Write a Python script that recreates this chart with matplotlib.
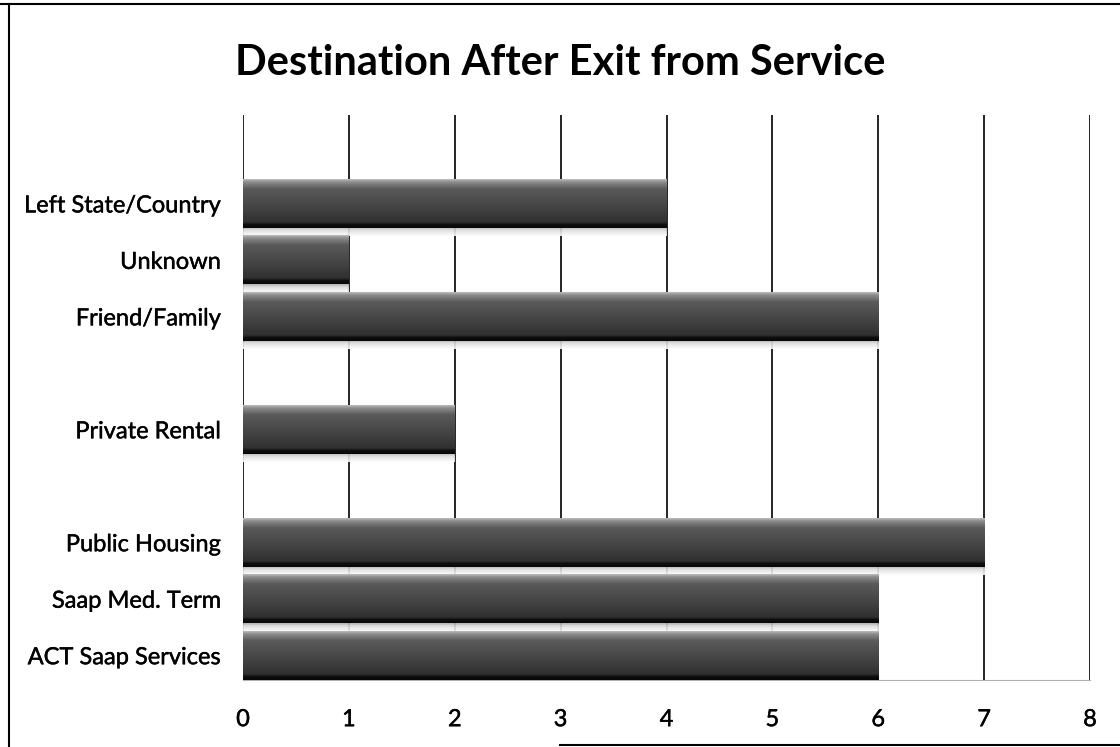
import numpy as np
import matplotlib
matplotlib.use("Agg")
import matplotlib.pyplot as plt
import matplotlib.patheffects as pe
from matplotlib.lines import Line2D
from matplotlib.colors import LinearSegmentedColormap

# ---- data (bottom to top; blank entries are empty category slots) ----
categories = ["ACT Saap Services", "Saap Med. Term", "Public Housing", "",
              "Private Rental", "", "Friend/Family", "Unknown",
              "Left State/Country", ""]
values = [6, 6, 7, 0, 2, 0, 6, 1, 4, 0]
x_ticks = [0, 1, 2, 3, 4, 5, 6, 7, 8]
title = "Destination After Exit from Service"

plt.rcParams['font.family'] = ['Lato', 'DejaVu Sans']

fig = plt.figure(figsize=(11.2, 7.47), dpi=100)
ax = fig.add_axes([0.217, 0.0897, 0.7562, 0.7564])

bar_h = 0.85
refl_h = 0.15

# bar shading: top highlight -> dark body -> black bottom edge (top row first)
bar_cmap = LinearSegmentedColormap.from_list(
    "bar", [(0.0, "#bdbdbd"), (0.06, "#8c8c8c"), (0.2, "#5a5a5a"),
            (0.55, "#454545"), (0.88, "#303030"), (0.93, "#0e0e0e"),
            (1.0, "#080808")])
refl_cmap = LinearSegmentedColormap.from_list(
    "refl", [(0.0, "#a8a8a8"), (0.35, "#dcdcdc"), (1.0, "#ffffff")])
grad = np.linspace(0, 1, 256).reshape(-1, 1)

ypos = np.arange(len(categories))
for y, v in zip(ypos, values):
    if v <= 0:
        continue
    top = y + bar_h / 2
    bot = y - bar_h / 2
    ax.imshow(grad, cmap=bar_cmap, aspect="auto", interpolation="bilinear",
              extent=(0, v, bot, top), origin="upper", zorder=3)
    ax.imshow(grad, cmap=refl_cmap, aspect="auto", interpolation="bilinear",
              extent=(0, v, bot - refl_h, bot), origin="upper", zorder=2,
              alpha=0.9)

ax.set_xlim(0, 8)
ax.set_ylim(-0.43, 9.575)
ax.set_xticks(x_ticks)
ax.set_xticklabels([str(t) for t in x_ticks], fontsize=17)
ax.set_yticks(ypos)
ax.set_yticklabels(categories, fontsize=17)
ax.tick_params(axis="both", length=0)
ax.tick_params(axis="x", pad=21)
ax.tick_params(axis="y", pad=16)

heavy = [pe.withStroke(linewidth=0.3, foreground="black")]
for lab in ax.get_xticklabels() + ax.get_yticklabels():
    lab.set_path_effects(heavy)

for t in x_ticks:
    ax.axvline(t, color="black", lw=1.2, zorder=1)

for s in ["top", "left", "right"]:
    ax.spines[s].set_visible(False)
ax.spines["bottom"].set_color("#b0b0b0")
ax.spines["bottom"].set_linewidth(0.8)

fig.text(0.5, 0.9, title, ha="center", va="baseline", fontsize=30,
         fontweight="bold")

# chart frame
fig.add_artist(Line2D([0.0, 1.0], [0.994, 0.994], color="black", lw=1.5,
                      transform=fig.transFigure))
fig.add_artist(Line2D([0.008, 0.008], [0.0, 0.994], color="black", lw=1.5,
                      transform=fig.transFigure))
fig.add_artist(Line2D([0.5, 1.0], [0.003, 0.003], color="black", lw=1.5,
                      transform=fig.transFigure))

fig.savefig("out.png", dpi=100)
